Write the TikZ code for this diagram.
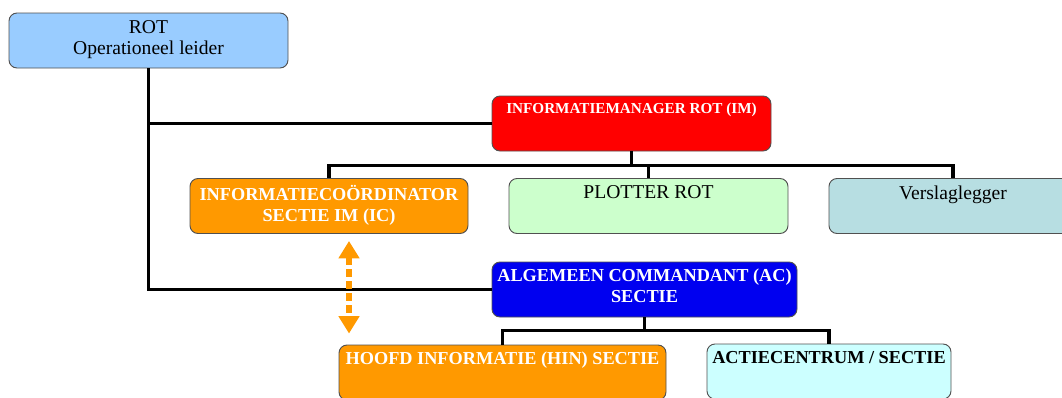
\documentclass[tikz,border=0pt]{standalone}
\usepackage{fontspec}
\setmainfont{Liberation Serif}
\usetikzlibrary{arrows.meta}
\definecolor{rotblue}{HTML}{99CCFF}
\definecolor{imred}{HTML}{FF0000}
\definecolor{icorange}{HTML}{FF9900}
\definecolor{plotgreen}{HTML}{CCFFCC}
\definecolor{verslblue}{HTML}{B7DEE2}
\definecolor{acblue}{HTML}{0000F0}
\definecolor{actiecyan}{HTML}{CCFFFF}
\definecolor{boxline}{HTML}{505050}
\begin{document}
\begin{tikzpicture}[x=0.75pt, y=-0.75pt,
    box/.style={draw=boxline, line width=0.7pt, rounded corners=6pt, minimum height=41.25pt, inner sep=0pt},
    lbl/.style={anchor=north, inner sep=0pt, yshift=-5.5pt, align=center},
    regtext/.style={font=\fontsize{14.7pt}{15.75pt}\selectfont},
    boldtext/.style={font=\fontsize{13.7pt}{15.75pt}\selectfont\bfseries},
    conn/.style={line width=2.4pt},
    infolink/.style={icorange, line width=4.6pt, dash pattern=on 5.5pt off 3.5pt,
      {Triangle[length=13pt,width=15pt]}-{Triangle[length=13pt,width=15pt]}}]
  \useasboundingbox (0,0) rectangle (1062,397);
  \clip (0,0) rectangle (1062,397);
  \node (rot) at (148.5,40.5) [box, fill=rotblue, minimum width=209.25pt,
    label={[lbl, regtext]north:{ROT\\Operationeel leider}}] {};
  \node (im) at (631.5,123.5) [box, fill=imred, minimum width=209.25pt,
    label={[lbl, white, font=\fontsize{11.4pt}{15.75pt}\selectfont\bfseries]north:{INFORMATIEMANAGER ROT (IM)}}] {};
  \node (ic) at (329,206) [box, fill=icorange, minimum width=208.5pt,
    label={[lbl, boldtext, white]north:{INFORMATIECOÖRDINATOR\\SECTIE IM (IC)}}] {};
  \node (plot) at (648.5,206) [box, fill=plotgreen, minimum width=209.25pt,
    label={[lbl, regtext]north:{PLOTTER ROT}}] {};
  \node (versl) at (953,206) [box, fill=verslblue, minimum width=186pt,
    label={[lbl, regtext]north:{Verslaglegger}}] {};
  \node (ac) at (644.5,289.5) [box, fill=acblue, minimum width=228.75pt,
    label={[lbl, boldtext, white]north:{ALGEMEEN COMMANDANT (AC)\\SECTIE}}] {};
  \node (hin) at (502.5,372.5) [box, fill=icorange, minimum width=245.25pt,
    label={[lbl, boldtext, white]north:{HOOFD INFORMATIE (HIN) SECTIE}}] {};
  \node (actie) at (829,371.5) [box, fill=actiecyan, minimum width=183pt,
    label={[lbl, boldtext]north:{ACTIECENTRUM / SECTIE}}] {};
  % lijnen
  \draw[conn] (rot.south) |- (im.west);
  \draw[conn] (rot.south) |- (ac.west);
  \foreach \dest in {ic, plot, versl}
    \draw[conn] (im.south) -- +(0,14) -| (\dest.north);
  \foreach \dest in {hin, actie}
    \draw[conn] (ac.south) -- +(0,13) -| (\dest.north);
  \draw[infolink] ([shift={(20,7)}]ic.south) -- ([shift={(-153.5,-11)}]hin.north);
\end{tikzpicture}
\end{document}
